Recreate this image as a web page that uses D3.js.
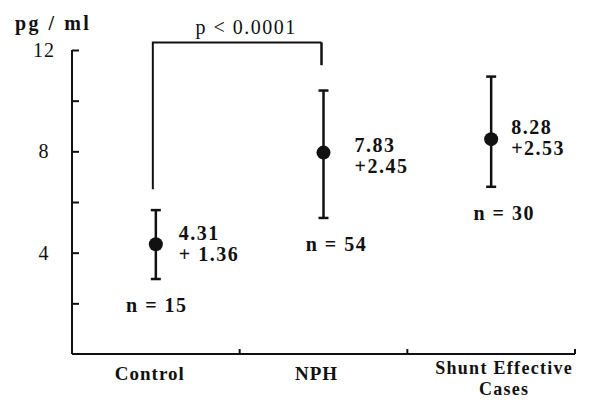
<!DOCTYPE html>
<html>
<head>
<meta charset="utf-8">
<script src="https://cdn.jsdelivr.net/npm/d3@7"></script>
<style>
  body { margin: 0; background: #fff; }
  text { font-family: "Liberation Serif", "Times New Roman", serif; fill: #111; }
</style>
</head>
<body>
<svg id="chart" width="593" height="400"></svg>
<script>
// values
const groups = ["Control", "NPH", "Shunt Effective Cases"];
const means = [4.33, 7.95, 8.48];
const lows = [2.96, 5.37, 6.6];
const highs = [5.68, 10.4, 10.95];
const meanText = ["4.31", "7.83", "8.28"];
const sdText = ["+ 1.36", "+2.45", "+2.53"];
const nText = ["n = 15", "n = 54", "n = 30"];
const yTicks = [2, 4, 6, 8, 10, 12];
const yLabels = [4, 8, 12];
// bracket between Control and NPH
const bracket = { from: "Control", to: "NPH", top: 12.3, leftEnd: 6.5, rightEnd: 11.4, text: "p < 0.0001" };

const svg = d3.select("#chart");
const x0 = 72, x1 = 575, yTop = 50, yBottom = 354;

const x = d3.scaleBand().domain(groups).range([x0, x1]);
const y = d3.scaleLinear().domain([0, 12]).range([yBottom, yTop]);
const cx = d => x(d) + x.bandwidth() / 2;

// y axis, ticks pointing inward
const yAxis = svg.append("g")
    .attr("transform", `translate(${x0},0)`)
    .call(d3.axisRight(y).tickValues(yTicks).tickSize(7).tickFormat(""));
yAxis.select(".domain").attr("d", `M0,${y(0)}V${y(12)}`);
yAxis.selectAll("path, line").attr("stroke", "#111").attr("stroke-width", 2);

svg.selectAll(".ylab")
    .data(yLabels)
    .enter()
    .append("text")
    .attr("x", 44)
    .attr("y", d => y(d) + 7)
    .attr("text-anchor", "middle")
    .attr("font-size", 20)
    .attr("letter-spacing", 1)
    .text(d => d);

svg.append("text")
    .attr("x", 15)
    .attr("y", 30)
    .attr("font-size", 20)
    .attr("font-weight", "bold")
    .attr("letter-spacing", 2.5)
    .text("pg / ml");

// x axis with short upward ticks at band edges
const edges = groups.map(g => x(g) + x.bandwidth());
svg.append("line")
    .attr("x1", x0).attr("x2", x1)
    .attr("y1", yBottom).attr("y2", yBottom)
    .attr("stroke", "#111").attr("stroke-width", 2);
svg.selectAll(".xtick")
    .data(edges)
    .enter()
    .append("line")
    .attr("x1", d => d).attr("x2", d => d)
    .attr("y1", yBottom).attr("y2", yBottom - 5)
    .attr("stroke", "#111").attr("stroke-width", 2);

// category labels, the last one wrapped on two lines
const catDx = [-6, -7, 13];
groups.forEach((g, i) => {
    const lines = g === "Shunt Effective Cases" ? ["Shunt Effective", "Cases"] : [g];
    const wrapped = lines.length > 1;
    lines.forEach((ln, j) => {
        svg.append("text")
            .attr("x", cx(g) + catDx[i])
            .attr("y", (wrapped ? 374 : 380) + j * 21)
            .attr("text-anchor", "middle")
            .attr("font-size", wrapped ? 18 : 19)
            .attr("font-weight", "bold")
            .attr("letter-spacing", wrapped ? 1.3 : 1)
            .text(ln);
    });
});

// error bars
const capW = 5;
groups.forEach((g, i) => {
    const c = cx(g);
    svg.append("line")
        .attr("x1", c).attr("x2", c)
        .attr("y1", y(lows[i])).attr("y2", y(highs[i]))
        .attr("stroke", "#111").attr("stroke-width", 2.5);
    [lows[i], highs[i]].forEach(v => {
        svg.append("line")
            .attr("x1", c - capW).attr("x2", c + capW)
            .attr("y1", y(v)).attr("y2", y(v))
            .attr("stroke", "#111").attr("stroke-width", 2.5);
    });
});

svg.selectAll(".point")
    .data(groups)
    .enter()
    .append("circle")
    .attr("class", "point")
    .attr("cx", d => cx(d))
    .attr("cy", (d, i) => y(means[i]))
    .attr("r", 7)
    .attr("fill", "#111");

// mean +- sd labels
const meanDx = [23, 31, 20];
const meanDy = [-4, -1, -5];
groups.forEach((g, i) => {
    const tx = cx(g) + meanDx[i];
    const ty = y(means[i]) + meanDy[i];
    svg.append("text")
        .attr("x", tx).attr("y", ty)
        .attr("font-size", 20).attr("font-weight", "bold").attr("letter-spacing", 1.5)
        .text(meanText[i]);
    svg.append("text")
        .attr("x", tx).attr("y", ty + 21)
        .attr("font-size", 20).attr("font-weight", "bold").attr("letter-spacing", 1.5)
        .text(sdText[i]);
});

// n labels
const nDx = [1, 13, 13];
svg.selectAll(".nlab")
    .data(groups)
    .enter()
    .append("text")
    .attr("x", (d, i) => cx(d) + nDx[i])
    .attr("y", (d, i) => y(lows[i]) + 33)
    .attr("text-anchor", "middle")
    .attr("font-size", 20)
    .attr("font-weight", "bold")
    .attr("letter-spacing", 1.5)
    .text((d, i) => nText[i]);

// significance bracket
const bx1 = cx(bracket.from) - 3, bx2 = cx(bracket.to) - 2;
svg.append("path")
    .attr("d", `M${bx1},${y(bracket.leftEnd)}V${y(bracket.top)}H${bx2}`)
    .attr("fill", "none").attr("stroke", "#111").attr("stroke-width", 2);
svg.append("line")
    .attr("x1", bx2).attr("x2", bx2)
    .attr("y1", y(bracket.top)).attr("y2", y(bracket.rightEnd))
    .attr("stroke", "#111").attr("stroke-width", 2.5);
svg.append("text")
    .attr("x", (bx1 + bx2) / 2 + 9)
    .attr("y", y(bracket.top) - 8)
    .attr("text-anchor", "middle")
    .attr("font-size", 20)
    .attr("letter-spacing", 1.5)
    .text(bracket.text);
</script>
</body>
</html>
